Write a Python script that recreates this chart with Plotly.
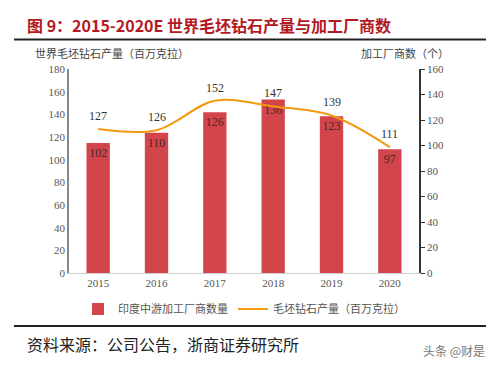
import plotly.graph_objects as go

years = ["2015", "2016", "2017", "2018", "2019", "2020"]
factories = [102, 110, 126, 136, 123, 97]          # 印度中游加工厂商数量 (right axis)
production = [127, 126, 152, 147, 139, 111]       # 毛坯钻石产量（百万克拉）(left axis)
left_ticks = list(range(0, 181, 20))
right_ticks = list(range(0, 161, 20))

L, R, T, B = 69, 80, 69, 95
W, H = 499, 368
PW, PH = W - L - R, H - T - B

def px(x):
    return (x - L) / PW

def py(y):
    return (H - B - y) / PH

serif = "Liberation Serif, Times New Roman, serif"
cjk = "Noto Sans CJK SC, sans-serif"

fig = go.Figure()
fig.add_trace(go.Bar(
    x=years, y=factories, name="印度中游加工厂商数量",
    marker=dict(color="#d2454b", line=dict(width=0)),
    width=0.4,
    text=[str(v) for v in factories], textposition="inside",
    insidetextanchor="end", textangle=0, constraintext="none",
    textfont=dict(family=serif, size=12, color="#4a2626"),
    yaxis="y",
))
fig.add_trace(go.Scatter(
    x=years, y=production, name="毛坯钻石产量（百万克拉）",
    mode="lines", line=dict(color="#f39a12", width=2, shape="spline", smoothing=1.0),
    yaxis="y2",
))

fig.update_layout(
    width=W, height=H,
    margin=dict(l=L, r=R, t=T, b=B, pad=0),
    paper_bgcolor="white", plot_bgcolor="white",
    showlegend=True,
    legend=dict(orientation="h", x=0.5, xanchor="center", y=py(309), yanchor="middle",
                font=dict(family=cjk, size=11, color="#555555"), itemwidth=30,
                traceorder="normal"),
    xaxis=dict(type="category", categoryarray=years, categoryorder="array",
               range=[-0.5, len(years) - 0.5], showgrid=False, showline=True,
               linecolor="#d0d0d0", linewidth=1,
               ticks="", tickfont=dict(family=serif, size=11, color="#555555"), zeroline=False),
    yaxis=dict(side="right", range=[0, 160], tickvals=right_ticks, showgrid=False,
               showline=True, linecolor="#333333", linewidth=1.5, ticks="outside", ticklen=4,
               tickcolor="#333333", tickfont=dict(family=serif, size=11, color="#555555"),
               zeroline=False),
    yaxis2=dict(side="left", overlaying="y", range=[0, 180], tickvals=left_ticks, showgrid=False,
                showline=True, linecolor="#888888", linewidth=1.5, ticks="",
                tickfont=dict(family=serif, size=11, color="#555555"), zeroline=False),
    bargap=0.6,
)

# line value labels, positioned through the x (category index) and left (y2) axes
for i, v in enumerate(production):
    fig.add_annotation(x=i, y=v, xref="x", yref="y2", text=str(v), showarrow=False,
                       yshift=13, yanchor="middle",
                       font=dict(family=serif, size=12, color="#333333"))

annos = [
    dict(text="<b>图 9：2015-2020E 世界毛坯钻石产量与加工厂商数</b>", x=px(25), y=py(25),
         xanchor="left", yanchor="middle", font=dict(family=cjk, size=16, color="#b3191f")),
    dict(text="世界毛坯钻石产量（百万克拉）", x=px(33), y=py(53), xanchor="left", yanchor="middle",
         font=dict(family=cjk, size=11, color="#444444")),
    dict(text="加工厂商数（个）", x=px(451), y=py(53), xanchor="right", yanchor="middle",
         font=dict(family=cjk, size=11, color="#444444")),
    dict(text="资料来源：公司公告，浙商证券研究所", x=px(25), y=py(344), xanchor="left", yanchor="middle",
         font=dict(family=cjk, size=16, color="#222222")),
    dict(text="头条 @财是", x=px(487), y=py(350), xanchor="right", yanchor="middle",
         font=dict(family=cjk, size=12, color="#777777")),
]
for a in annos:
    a.update(xref="paper", yref="paper", showarrow=False)
    fig.add_annotation(**a)

fig.add_shape(type="line", xref="paper", yref="paper", x0=px(14), x1=px(486), y0=py(39.5), y1=py(39.5),
              line=dict(color="#222222", width=2))
fig.add_shape(type="line", xref="paper", yref="paper", x0=px(14), x1=px(486), y0=py(326), y1=py(326),
              line=dict(color="#222222", width=2))

fig.write_html("out.html", config={"displayModeBar": False},
               post_script="document.body.style.margin='0';document.body.style.padding='0';")
